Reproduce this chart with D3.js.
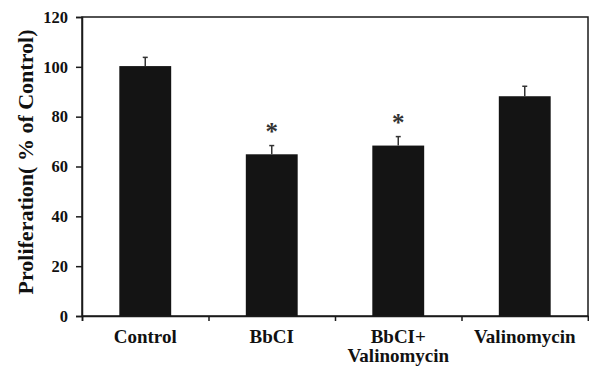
<!DOCTYPE html>
<html><head><meta charset="utf-8">
<script src="https://cdn.jsdelivr.net/npm/d3@7"></script>
<style>body{margin:0;background:#fff}svg{display:block}</style>
</head><body>
<svg id="c" width="589" height="366"></svg>
<script>
const categories = [["Control"], ["BbCI"], ["BbCI+", "Valinomycin"], ["Valinomycin"]];
const values = [100.3, 64.9, 68.4, 88.2];
const errors = [3.5, 3.5, 3.6, 4.0];
const significant = [false, true, true, false];
const yTicks = [0, 20, 40, 60, 80, 100, 120];
const yTitle = "Proliferation( % of Control)";

const svg = d3.select("#c");
const m = {left: 82, right: 1, top: 17, bottom: 50};
const W = 589, H = 366;
const x = d3.scaleBand().domain(d3.range(categories.length)).range([m.left, W - m.right])
  .paddingInner(0.59).paddingOuter(0.295);
const y = d3.scaleLinear().domain([0, 120]).range([H - m.bottom, m.top]);
const font = "'Liberation Serif','Times New Roman',serif";
const ink = "#1a1a1a";

// frame
svg.append("rect").attr("x", m.left).attr("y", m.top)
  .attr("width", W - m.right - m.left).attr("height", y(0) - m.top)
  .attr("fill", "none").attr("stroke", ink).attr("stroke-width", 1.5);

// bars
const g = svg.append("g");
g.selectAll("rect.bar").data(values).join("rect")
  .attr("x", (d, i) => x(i)).attr("width", x.bandwidth())
  .attr("y", d => y(d)).attr("height", d => y(0) - y(d))
  .attr("fill", "#141414");

// error bars
values.forEach((v, i) => {
  const cx = x(i) + x.bandwidth() / 2;
  g.append("line").attr("x1", cx).attr("x2", cx).attr("y1", y(v)).attr("y2", y(v + errors[i]))
    .attr("stroke", "#333").attr("stroke-width", 1.5);
  g.append("line").attr("x1", cx - 2.5).attr("x2", cx + 2.5).attr("y1", y(v + errors[i])).attr("y2", y(v + errors[i]))
    .attr("stroke", "#333").attr("stroke-width", 1.5);
  if (significant[i]) {
    g.append("text").attr("x", cx).attr("y", y(v + errors[i]) - 6)
      .attr("text-anchor", "middle").attr("font-family", font).attr("font-weight", "bold")
      .attr("font-size", 25).attr("fill", "#333").text("*");
  }
});

// y axis
const ya = svg.append("g").attr("transform", `translate(${m.left},0)`)
  .call(d3.axisLeft(y).tickValues(yTicks).tickSize(6).tickPadding(8));
ya.select(".domain").attr("stroke", ink).attr("stroke-width", 1.5);
ya.selectAll(".tick line").attr("stroke", ink).attr("stroke-width", 1.5);
ya.selectAll(".tick text").attr("font-family", font).attr("font-weight", "bold")
  .attr("font-size", 16.5).attr("fill", "#111");

// x axis ticks at band boundaries
const xb = d3.scaleLinear().domain([0, categories.length]).range([m.left, W - m.right]);
const xa = svg.append("g").attr("transform", `translate(0,${y(0)})`)
  .call(d3.axisBottom(xb).ticks(categories.length).tickSize(5).tickFormat(""));
xa.select(".domain").attr("stroke", ink).attr("stroke-width", 1.5);
xa.selectAll(".tick line").attr("stroke", ink).attr("stroke-width", 1.5);

// category labels
categories.forEach((lines, i) => {
  const t = svg.append("text").attr("x", x(i) + x.bandwidth() / 2).attr("y", 343)
    .attr("text-anchor", "middle").attr("font-family", font).attr("font-weight", "bold")
    .attr("font-size", 19).attr("fill", "#111");
  lines.forEach((s, k) => t.append("tspan").attr("x", x(i) + x.bandwidth() / 2).attr("dy", k ? 19 : 0).text(s));
});

// y title
svg.append("text").attr("transform", `translate(33,162) rotate(-90)`)
  .attr("text-anchor", "middle").attr("font-family", font).attr("font-weight", "bold")
  .attr("font-size", 22).attr("fill", "#111").text(yTitle);
</script>
</body></html>
